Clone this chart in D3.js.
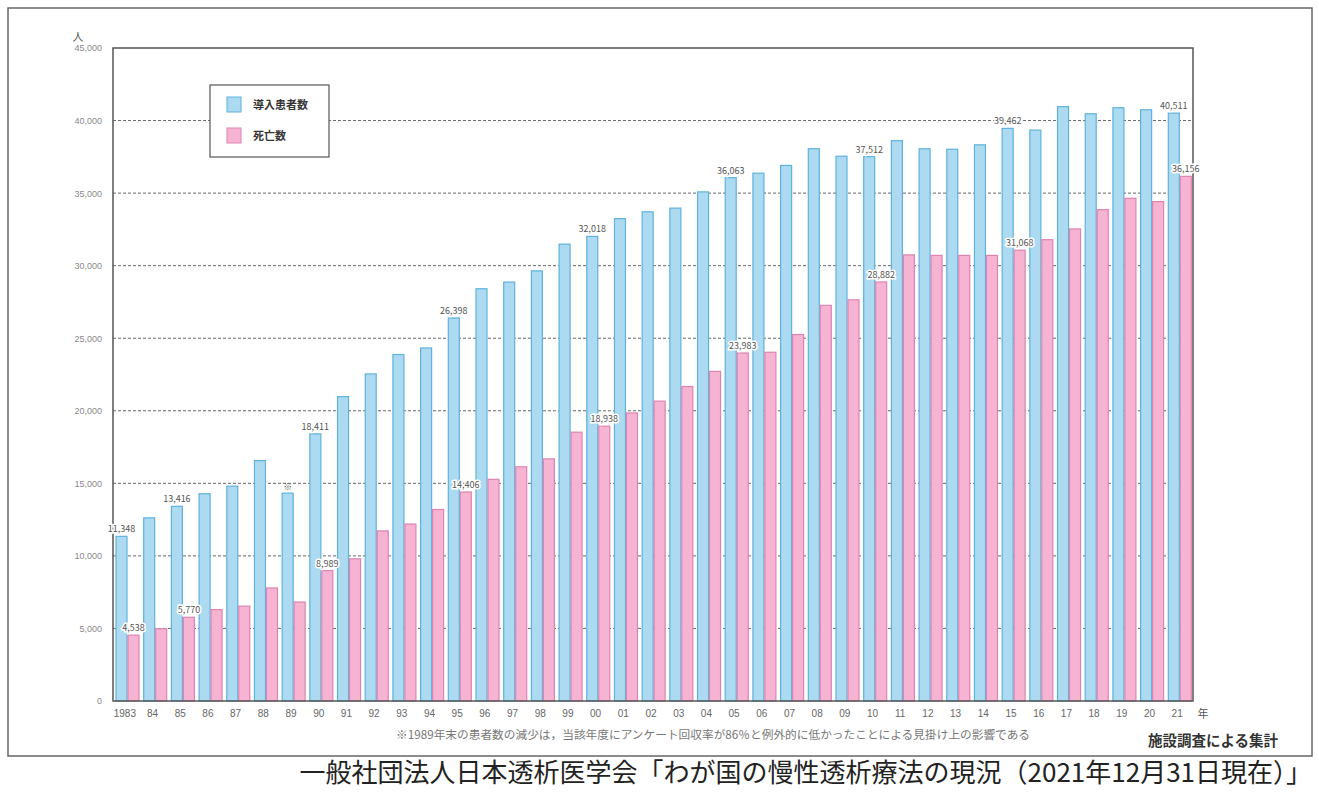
<!DOCTYPE html>
<html>
<head>
<meta charset="utf-8">
<script src="https://cdn.jsdelivr.net/npm/d3@7"></script>
<style>
  body { margin: 0; background: #fff; }
  text { font-family: "Noto Sans CJK JP", "Noto Sans", sans-serif; }
</style>
</head>
<body>
<svg></svg>
<script>
'use strict';

// years on the x axis and their printed labels
var years = ['1983','84','85','86','87','88','89','90','91','92','93','94','95','96','97','98','99',
  '00','01','02','03','04','05','06','07','08','09','10','11','12','13','14','15','16','17','18','19','20','21'];

// 導入患者数 (new dialysis patients)
var newPatients = [11348, 12621, 13416, 14283, 14804, 16566, 14325, 18411, 20974, 22539, 23874, 24330, 26398,
  28409, 28870, 29641, 31483, 32018, 33243, 33710, 33966, 35084, 36063, 36373, 36909, 38060, 37543, 37512,
  38613, 38055, 38024, 38327, 39462, 39344, 40959, 40468, 40885, 40744, 40511];

// 死亡数 (deaths)
var deaths = [4538, 4977, 5770, 6295, 6537, 7792, 6820, 8989, 9800, 11722, 12196, 13196, 14406, 15276, 16141,
  16685, 18524, 18938, 19850, 20665, 21672, 22715, 23983, 24034, 25253, 27266, 27646, 28882, 30743, 30710,
  30708, 30707, 31068, 31790, 32532, 33863, 34642, 34414, 36156];

// years whose values are printed above the bars
var labelledYears = ['1983','85','90','95','00','05','10','15','21'];

var yTicks = [0, 5000, 10000, 15000, 20000, 25000, 30000, 35000, 40000, 45000];

var SVG_SIZE = {width: 1319, height: 792};
var PLOT = {left: 113, right: 1193, top: 48, bottom: 701};

var svg = d3.select('svg').attr('width', SVG_SIZE.width).attr('height', SVG_SIZE.height);

var xScale = d3.scaleBand().domain(years).range([PLOT.left, PLOT.right]);
var yScale = d3.scaleLinear().domain([0, 45000]).range([PLOT.bottom, PLOT.top]);

//outer frame
svg.append('rect')
  .attr('x', 8).attr('y', 8).attr('width', 1304).attr('height', 748)
  .attr('fill', 'none').attr('stroke', '#666').attr('stroke-width', 1.5);

//dashed grid lines
svg.append('g').selectAll('line')
  .data(yTicks.filter(function(d){ return d > 0 && d < 45000; }))
  .enter().append('line')
  .attr('x1', PLOT.left).attr('x2', PLOT.right)
  .attr('y1', function(d){ return yScale(d); })
  .attr('y2', function(d){ return yScale(d); })
  .attr('stroke', '#666').attr('stroke-width', 1)
  .attr('stroke-dasharray', '3,2');

//y axis labels
var yAxis = d3.axisLeft(yScale).tickValues(yTicks).tickSize(0).tickPadding(11)
  .tickFormat(function(d){ return d === 0 ? '0' : d3.format(',')(d); });
var yG = svg.append('g').attr('transform', 'translate(' + PLOT.left + ',0)').call(yAxis);
yG.select('.domain').remove();
yG.selectAll('text').attr('fill', '#888').style('font-size', '9px')
  .style('font-family', '"Liberation Sans", sans-serif');

svg.append('text').text('人')
  .attr('x', 78).attr('y', 41).attr('text-anchor', 'middle')
  .attr('fill', '#555').style('font-size', '11px');

//bars
var bw = 11;
var bars = svg.append('g');
bars.selectAll('rect.new').data(years).enter().append('rect')
  .attr('class', 'new')
  .attr('x', function(d){ return xScale(d) + 3; })
  .attr('y', function(d, i){ return yScale(newPatients[i]); })
  .attr('width', bw)
  .attr('height', function(d, i){ return yScale(0) - yScale(newPatients[i]); })
  .attr('fill', '#acdaf0').attr('stroke', '#5fb2dc').attr('stroke-width', 1.2);
bars.selectAll('rect.death').data(years).enter().append('rect')
  .attr('class', 'death')
  .attr('x', function(d){ return xScale(d) + 3 + bw + 1; })
  .attr('y', function(d, i){ return yScale(deaths[i]); })
  .attr('width', bw)
  .attr('height', function(d, i){ return yScale(0) - yScale(deaths[i]); })
  .attr('fill', '#f6b4d2').attr('stroke', '#de84b2').attr('stroke-width', 1.2);

//plot frame
svg.append('rect')
  .attr('x', PLOT.left).attr('y', PLOT.top)
  .attr('width', PLOT.right - PLOT.left).attr('height', PLOT.bottom - PLOT.top)
  .attr('fill', 'none').attr('stroke', '#555').attr('stroke-width', 1.5);

//value labels
var labels = svg.append('g')
  .style('font-size', '9px').style('font-family', '"Liberation Sans", sans-serif')
  .attr('text-anchor', 'middle').attr('fill', '#555');
labelledYears.forEach(function(y){
  var i = years.indexOf(y);
  var cxNew = xScale(y) + 3 + bw / 2;
  var cxDeath = xScale(y) + 4 + bw * 1.5;
  [[cxNew, newPatients[i]], [cxDeath, deaths[i]]].forEach(function(p){
    labels.append('text')
      .attr('x', p[0]).attr('y', yScale(p[1]) - 4)
      .attr('stroke', '#fff').attr('stroke-width', 3).attr('paint-order', 'stroke')
      .text(d3.format(',')(p[1]));
  });
});
labels.append('text')
  .attr('x', xScale('89') + 3 + bw / 2).attr('y', yScale(newPatients[years.indexOf('89')]) - 3)
  .text('※');

//x axis labels
var xAxis = d3.axisBottom(xScale).tickSize(0).tickPadding(9);
var xG = svg.append('g').attr('transform', 'translate(0,' + PLOT.bottom + ')').call(xAxis);
xG.select('.domain').remove();
xG.selectAll('text').attr('fill', '#666').style('font-size', '10px')
  .style('font-family', '"Liberation Sans", sans-serif')
  .attr('dx', -2);
svg.append('text').text('年')
  .attr('x', 1203).attr('y', 718).attr('text-anchor', 'middle')
  .attr('fill', '#555').style('font-size', '11px');

//legend
var legend = svg.append('g');
legend.append('rect')
  .attr('x', 210).attr('y', 85).attr('width', 119).attr('height', 72)
  .attr('fill', '#fff').attr('stroke', '#555').attr('stroke-width', 1.2);
var legendItems = [
  {label: '導入患者数', fill: '#acdaf0', stroke: '#5fb2dc', y: 97},
  {label: '死亡数', fill: '#f6b4d2', stroke: '#de84b2', y: 128}
];
legendItems.forEach(function(d){
  legend.append('rect')
    .attr('x', 227).attr('y', d.y).attr('width', 14).attr('height', 15)
    .attr('fill', d.fill).attr('stroke', d.stroke);
  legend.append('text').text(d.label)
    .attr('x', 253).attr('y', d.y + 12)
    .attr('fill', '#333').style('font-size', '11px').style('font-weight', 'bold');
});

//foot notes
svg.append('text')
  .text('※1989年末の患者数の減少は，当該年度にアンケート回収率が86％と例外的に低かったことによる見掛け上の影響である')
  .attr('x', 396).attr('y', 739).attr('fill', '#777').style('font-size', '11.7px');
svg.append('text').text('施設調査による集計')
  .attr('x', 1148).attr('y', 746).attr('fill', '#333')
  .style('font-size', '14.5px').style('font-weight', 'bold');

svg.append('text')
  .text('一般社団法人日本透析医学会「わが国の慢性透析療法の現況（2021年12月31日現在）」')
  .attr('x', 1312).attr('y', 782).attr('text-anchor', 'end')
  .attr('fill', '#222').style('font-size', '26px');
</script>
</body>
</html>
